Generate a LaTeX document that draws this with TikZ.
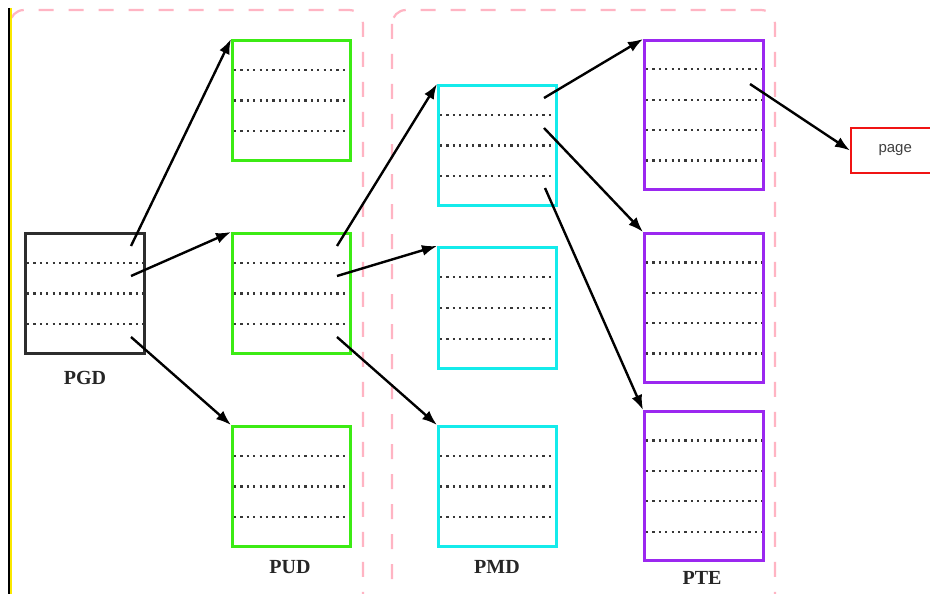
\documentclass[tikz,border=0pt]{standalone}
\usepackage{fontspec}
\setmainfont{Liberation Serif}
\newfontfamily\pagefont{Liberation Sans}
\usetikzlibrary{calc,arrows.meta}
\definecolor{pgdc}{RGB}{45,45,45}
\definecolor{pudc}{RGB}{60,235,20}
\definecolor{pmdc}{RGB}{20,235,235}
\definecolor{ptec}{RGB}{155,40,240}
\definecolor{pagec}{RGB}{240,20,20}
\definecolor{frame}{RGB}{255,180,195}
\definecolor{edgey}{RGB}{250,232,0}
\definecolor{dotc}{RGB}{55,55,55}
\newcommand\slotlines[2]{%
  \pgfmathtruncatemacro\nlines{#2-1}%
  \foreach \k in {1,...,\nlines}{%
    \draw[sep] ($(#1.north west)!\k/#2!(#1.south west)+(3,0)$) -- ($(#1.north east)!\k/#2!(#1.south east)+(-3,0)$);
  }}
\begin{document}
\begin{tikzpicture}[x=1pt,y=-1pt,
  tbl/.style={draw=#1, line width=3pt, fill=none, inner sep=0pt, anchor=north west},
  sep/.style={draw=dotc, line width=2.2pt, dash pattern=on 2.2pt off 4.2pt},
  arr/.style={draw=black, line width=2.4pt, -{Latex[length=15pt,width=11pt]}},
  lab/.style={font=\fontsize{20}{22}\selectfont\bfseries, text=black!85},
  pinkdash/.style={draw=frame, line width=2.2pt, dash pattern=on 15pt off 15pt, rounded corners=14pt}]
\useasboundingbox (0,0) rectangle (930,594);
\clip (0,0) rectangle (930,594);
\fill[white] (0,0) rectangle (930,594);
% frames
\draw[pinkdash] (10,10) rectangle (363,640);
\draw[pinkdash] (392,10) rectangle (775,640);
% left edge
\draw[edgey, line width=2.4pt] (10.8,8) -- (10.8,594);
\draw[black, line width=2pt] (8.6,8) -- (8.6,594);
% tables
\node[tbl=pgdc, minimum width=119, minimum height=120] (pgd) at (24,232) {};
\node[tbl=pudc, minimum width=118, minimum height=120] (pud1) at (231,39) {};
\node[tbl=pudc, minimum width=118, minimum height=120] (pud2) at (231,232) {};
\node[tbl=pudc, minimum width=118, minimum height=120] (pud3) at (231,425) {};
\node[tbl=pmdc, minimum width=118, minimum height=120] (pmd1) at (437,84) {};
\node[tbl=pmdc, minimum width=118, minimum height=121] (pmd2) at (437,246) {};
\node[tbl=pmdc, minimum width=118, minimum height=120] (pmd3) at (437,425) {};
\node[tbl=ptec, minimum width=119, minimum height=149] (pte1) at (643,39) {};
\node[tbl=ptec, minimum width=119, minimum height=149] (pte2) at (643,232) {};
\node[tbl=ptec, minimum width=119, minimum height=149] (pte3) at (643,410) {};
\node[draw=pagec, line width=2.4pt, minimum width=88, minimum height=45, inner sep=0pt, anchor=west,
      font=\pagefont\fontsize{15}{17}\selectfont, text=black!75] (page) at (850,150.5) {page};
\slotlines{pgd}{4}
\slotlines{pud1}{4}
\slotlines{pud2}{4}
\slotlines{pud3}{4}
\slotlines{pmd1}{4}
\slotlines{pmd2}{4}
\slotlines{pmd3}{4}
\slotlines{pte1}{5}
\slotlines{pte2}{5}
\slotlines{pte3}{5}
% labels
\node[lab] (lpgd) at (85,378) {PGD};
\node[lab] (lpud) at (290,567) {PUD};
\node[lab] (lpmd) at (497,567) {PMD};
\node[lab] (lpte) at (702,578) {PTE};
% entry points
\coordinate (g1) at ($(pgd.north east)+(-15,14)$);
\coordinate (g2) at ($(pgd.north east)+(-15,44)$);
\coordinate (g3) at ($(pgd.north east)+(-15,105)$);
\coordinate (u1) at ($(pud2.north east)+(-15,14)$);
\coordinate (u2) at ($(pud2.north east)+(-15,44)$);
\coordinate (u3) at ($(pud2.north east)+(-15,105)$);
\coordinate (m1) at ($(pmd1.north east)+(-14,14)$);
\coordinate (m2) at ($(pmd1.north east)+(-14,44)$);
\coordinate (m3) at ($(pmd1.north east)+(-13,104)$);
\coordinate (t1) at ($(pte1.north east)+(-15,45)$);
% arrows
\draw[arr] (g1) -- (pud1.north west);
\draw[arr] (g2) -- (pud2.north west);
\draw[arr] (g3) -- (pud3.north west);
\draw[arr] (u1) -- (pmd1.north west);
\draw[arr] (u2) -- (pmd2.north west);
\draw[arr] (u3) -- (pmd3.north west);
\draw[arr] (m1) -- (pte1.north west);
\draw[arr] (m2) -- (pte2.north west);
\draw[arr] (m3) -- (pte3.north west);
\draw[arr] (t1) -- (page.west);
\end{tikzpicture}
\end{document}
